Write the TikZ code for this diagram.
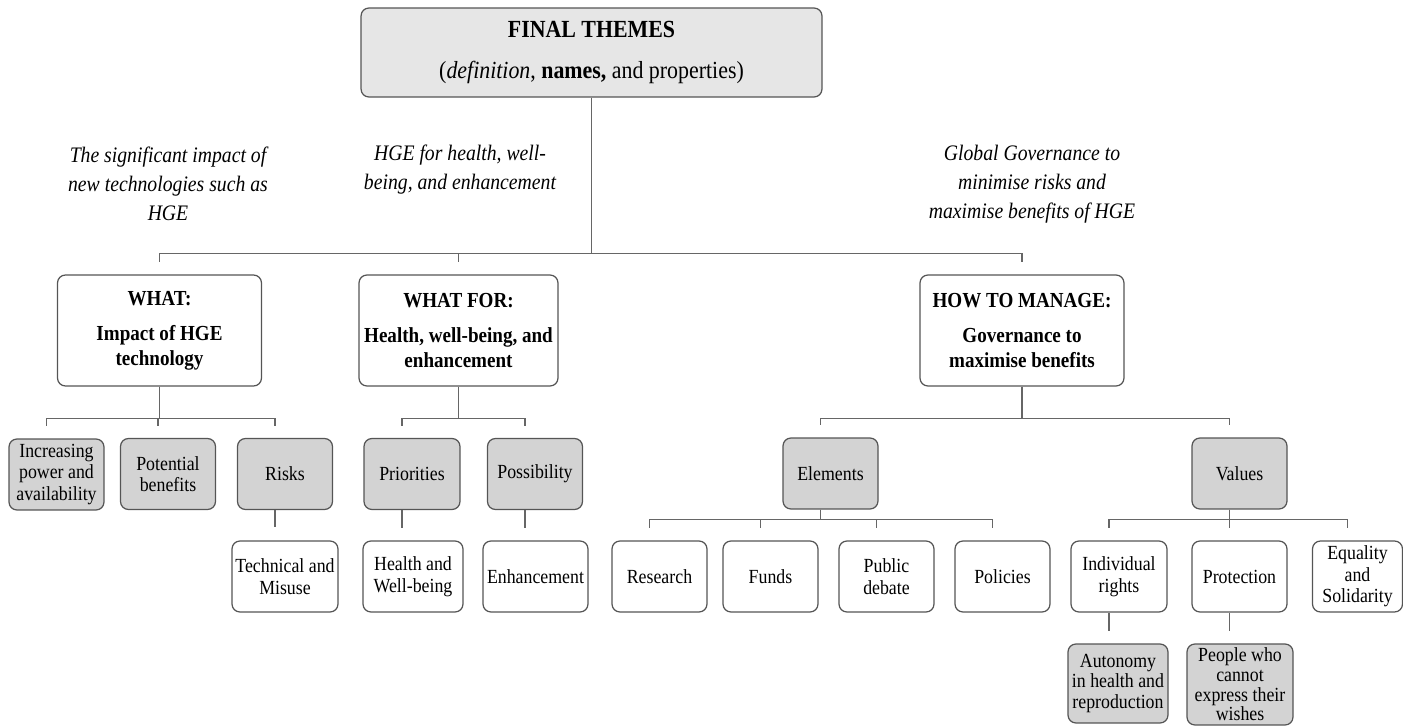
\documentclass[tikz,border=0pt]{standalone}
\usepackage{fontspec}
\setmainfont{Liberation Serif}[FakeStretch=0.89]
\definecolor{boxline}{HTML}{555555}
\definecolor{topfill}{HTML}{E6E6E6}
\definecolor{subfill}{HTML}{D3D3D3}
\definecolor{linkgray}{HTML}{666666}

\tikzset{
  box/.style={draw=boxline, rounded corners=4.5pt, align=center, inner sep=1pt, line width=0.7pt},
  theme/.style={box, minimum width=4.08cm, minimum height=2.22cm, font=\fontsize{12.2}{14.2}\selectfont\bfseries},
  sub/.style={box, fill=subfill, minimum width=1.9cm, minimum height=1.42cm, font=\fontsize{11.4}{12.3}\selectfont},
  leaf/.style={box, fill=white, minimum width=1.9cm, minimum height=1.42cm, font=\fontsize{11.4}{12.3}\selectfont},
  note/.style={align=center, font=\fontsize{12.6}{16.5}\selectfont\itshape},
  link/.style={draw=linkgray, line width=0.75pt},
}

\begin{document}
\begin{tikzpicture}[x=0.02cm,y=-0.02cm]
\useasboundingbox (0,0) rectangle (1403,726);

% root
\node[box, fill=topfill, minimum width=9.22cm, minimum height=1.78cm, font=\fontsize{14}{16}\selectfont] (final) at (591.5,52.5)
  {\textbf{FINAL THEMES}\\[6.8pt](\textit{definition}, \textbf{names,} and properties)};

% notes on the branches
\node[note] (noteimpact) at (168,184) {The significant impact of\\new technologies such as\\HGE};
\node[note] (notehealth) at (460,170) {HGE for health, well-\\being, and enhancement};
\node[note] (notegov) at (1032,184) {Global Governance to\\minimise risks and\\maximise benefits of HGE};

% themes
\node[theme] (what) at (159.5,330.5) {WHAT:\\[5.8pt]Impact of HGE\\technology};
\node[theme, minimum width=3.98cm] (whatfor) at (458.5,330.5) {WHAT FOR:\\[5.8pt]Health, well-being, and\\enhancement};
\node[theme] (how) at (1022,330.5) {HOW TO MANAGE:\\[5.8pt]Governance to\\maximise benefits};

% what
\node[sub] (power) at (56.5,474.5) {Increasing\\power and\\availability};
\node[sub] (benefits) at (168,474) {Potential\\benefits};
\node[sub] (risks) at (285,474) {Risks};
\node[leaf, minimum width=2.12cm] (misuse) at (285,576.5) {Technical and\\Misuse};

% what for
\node[sub, minimum width=1.92cm] (priorities) at (412,474) {Priorities};
\node[sub] (possibility) at (535,474) {Possibility};
\node[leaf, minimum width=2cm] (wellbeing) at (413,576.5) {Health and\\Well-being};
\node[leaf, minimum width=2.1cm] (enhance) at (535.5,576.5) {Enhancement};

% how to manage
\node[sub] (elements) at (830.5,473.5) {Elements};
\node[sub] (values) at (1239.5,473.5) {Values};
\node[leaf] (research) at (659.5,576.5) {Research};
\node[leaf] (funds) at (770.5,576.5) {Funds};
\node[leaf] (debate) at (886.5,576.5) {Public\\debate};
\node[leaf] (policies) at (1002.5,576.5) {Policies};
\node[leaf, minimum width=1.92cm] (rights) at (1119,576.5) {Individual\\rights};
\node[leaf] (protection) at (1239.5,576.5) {Protection};
\node[leaf, minimum width=1.8cm] (equality) at (1357.5,576.5) {Equality\\and\\Solidarity};
\node[sub, minimum width=2cm, minimum height=1.58cm, font=\fontsize{11.4}{11.6}\selectfont] (autonomy) at (1118,683.5) {Autonomy\\in health and\\reproduction};
\node[sub, minimum width=2.12cm, minimum height=1.62cm, font=\fontsize{11.4}{11.2}\selectfont] (wishes) at (1240,684.5) {People who\\cannot\\express their\\wishes};

% connectors
\foreach \c in {what,whatfor,how}
  \draw[link, shorten >=0.24cm] (final.south) -- ++(0,156) -| (\c.north);
\foreach \c in {power,benefits,risks}
  \draw[link, shorten >=0.24cm] (what.south) -- ++(0,32) -| ([xshift=-0.2cm]\c.north);
\foreach \c in {priorities,possibility}
  \draw[link, shorten >=0.24cm] (whatfor.south) -- ++(0,32) -| ([xshift=-0.2cm]\c.north);
\foreach \c in {elements,values}
  \draw[link, shorten >=0.24cm] (how.south) -- ++(0,32) -| ([xshift=-0.2cm]\c.north);
\foreach \c in {research,funds,debate,policies}
  \draw[link, shorten >=0.24cm] ([xshift=-0.2cm]elements.south) -- ++(0,10) -| ([xshift=-0.2cm]\c.north);
\foreach \c in {rights,protection,equality}
  \draw[link, shorten >=0.24cm] ([xshift=-0.2cm]values.south) -- ++(0,10) -| ([xshift=-0.2cm]\c.north);
\draw[link, shorten >=0.26cm] ([xshift=-0.2cm]risks.south) -- ([xshift=-0.2cm]misuse.north);
\draw[link, shorten >=0.24cm] ([xshift=-0.2cm]priorities.south) -- ([xshift=-0.2cm]priorities.south |- wellbeing.north);
\draw[link, shorten >=0.24cm] ([xshift=-0.2cm]possibility.south) -- ([xshift=-0.2cm]possibility.south |- enhance.north);
\draw[link, shorten >=0.24cm] ([xshift=-0.2cm]rights.south) -- ([xshift=-0.2cm]rights.south |- autonomy.north);
\draw[link, shorten >=0.24cm] ([xshift=-0.2cm]protection.south) -- ([xshift=-0.2cm]protection.south |- wishes.north);
\end{tikzpicture}
\end{document}
